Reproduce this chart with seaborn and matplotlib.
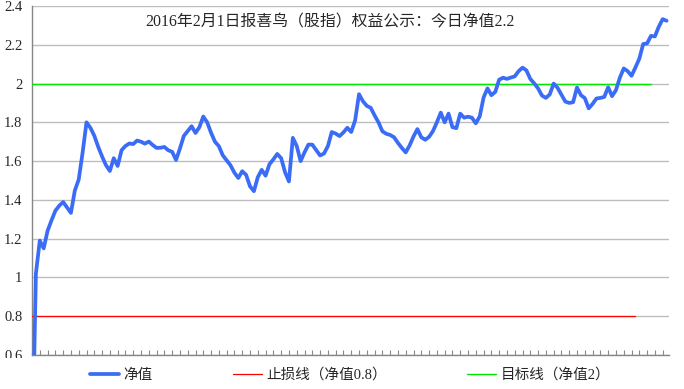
# 报喜鸟（股指）净值走势 recreation
import numpy as np
import seaborn as sns
import matplotlib
matplotlib.use("Agg")
import matplotlib.pyplot as plt
from matplotlib.patches import Rectangle

title = "2016年2月1日报喜鸟（股指）权益公示：今日净值2.2"
series_names = ["净值", "止损线（净值0.8）", "目标线（净值2）"]

# daily net value (first day sits below the axis)
nav = [0.0, 1.02, 1.19, 1.15, 1.24, 1.294, 1.344, 1.37, 1.389, 1.361,
       1.333, 1.448, 1.505, 1.644, 1.80, 1.772, 1.731, 1.674, 1.624, 1.579,
       1.549, 1.615, 1.575, 1.656, 1.678, 1.691, 1.688, 1.706, 1.70, 1.69,
       1.701, 1.683, 1.668, 1.669, 1.673, 1.656, 1.648, 1.606, 1.665, 1.73,
       1.755, 1.78, 1.745, 1.775, 1.83, 1.80, 1.746, 1.70, 1.677, 1.63,
       1.604, 1.578, 1.54, 1.513, 1.548, 1.529, 1.47, 1.445, 1.517, 1.555,
       1.525, 1.584, 1.609, 1.637, 1.615, 1.543, 1.495, 1.72, 1.678, 1.60,
       1.645, 1.685, 1.685, 1.657, 1.629, 1.639, 1.677, 1.75, 1.742, 1.729,
       1.748, 1.772, 1.75, 1.81, 1.945, 1.909, 1.885, 1.875, 1.836, 1.80,
       1.754, 1.741, 1.735, 1.723, 1.694, 1.668, 1.645, 1.681, 1.727, 1.765,
       1.723, 1.71, 1.725, 1.755, 1.80, 1.85, 1.80, 1.845, 1.775, 1.77,
       1.845, 1.824, 1.829, 1.824, 1.795, 1.83, 1.928, 1.975, 1.94, 1.957,
       2.02, 2.03, 2.024, 2.031, 2.037, 2.064, 2.082, 2.068, 2.024, 2.001,
       1.975, 1.938, 1.926, 1.944, 2.0, 1.978, 1.942, 1.907, 1.90, 1.904,
       1.98, 1.94, 1.925, 1.872, 1.895, 1.923, 1.926, 1.931, 1.981, 1.935,
       1.966, 2.03, 2.078, 2.064, 2.04, 2.083, 2.128, 2.204, 2.207, 2.246,
       2.243, 2.293, 2.332, 2.324]
stop_loss = [0.8] * 156
target = [2.0] * 160

y_ticks = [0.6, 0.8, 1.0, 1.2, 1.4, 1.6, 1.8, 2.0, 2.2, 2.4]
y_tick_labels = ["0.6", "0.8", "1", "1.2", "1.4", "1.6", "1.8", "2", "2.2", "2.4"]

sns.set_style("white")
plt.rcParams["font.family"] = ["Liberation Serif", "Noto Sans CJK SC"]

W, H = 684, 389
fig = plt.figure(figsize=(W / 100, H / 100), dpi=100)
ax = fig.add_axes([32 / W, 1 - 355 / H, 636.5 / W, 349 / H])

sns.lineplot(x=np.arange(len(nav)), y=nav, ax=ax, color="#3b6cf6",
             linewidth=2.7, label=series_names[0], zorder=4,
             solid_joinstyle="round", solid_capstyle="round")
sns.lineplot(x=np.arange(len(stop_loss)), y=stop_loss, ax=ax, color="#ff0000",
             linewidth=0.9, label=series_names[1], zorder=3)
sns.lineplot(x=np.arange(len(target)), y=target, ax=ax, color="#00e600",
             linewidth=1.0, label=series_names[2], zorder=3)

ax.set_xlim(0, 163.5)
ax.set_ylim(0.6, 2.4)
ax.set_yticks(y_ticks)
ax.set_yticklabels(y_tick_labels)
ax.set_xticks(np.arange(0, 164, 2))
ax.set_xlabel("")
ax.set_ylabel("")
ax.yaxis.grid(True, color="#bdbdbd", linewidth=1.0)
ax.set_axisbelow(True)
ax.tick_params(axis="y", left=False, length=0, pad=7, labelsize=10.5)
ax.tick_params(axis="x", bottom=True, direction="in", length=3.8, width=0.8,
               color="#868686", labelbottom=False)
for side in ["top", "right"]:
    ax.spines[side].set_visible(False)
for side in ["left", "bottom"]:
    ax.spines[side].set_color("#868686")
    ax.spines[side].set_linewidth(1.0)

# legend below the plot
handles, labels = ax.get_legend_handles_labels()
ax.get_legend().remove()
fig.legend(handles, labels, loc="center", bbox_to_anchor=(350 / W, 1 - 375 / H),
           ncol=3, frameon=False, fontsize=10.5, handlelength=2.0,
           handletextpad=0.3, columnspacing=5.5)

fig.text(330 / W, 1 - 22 / H, title, ha="center", va="center", fontsize=11.4)

# the bottom label is cut off in the original
fig.add_artist(Rectangle((0, 0), 31 / W, (H - 357.5) / H, transform=fig.transFigure,
                         facecolor="white", edgecolor="none", zorder=10))

fig.savefig("out.png", dpi=100)
